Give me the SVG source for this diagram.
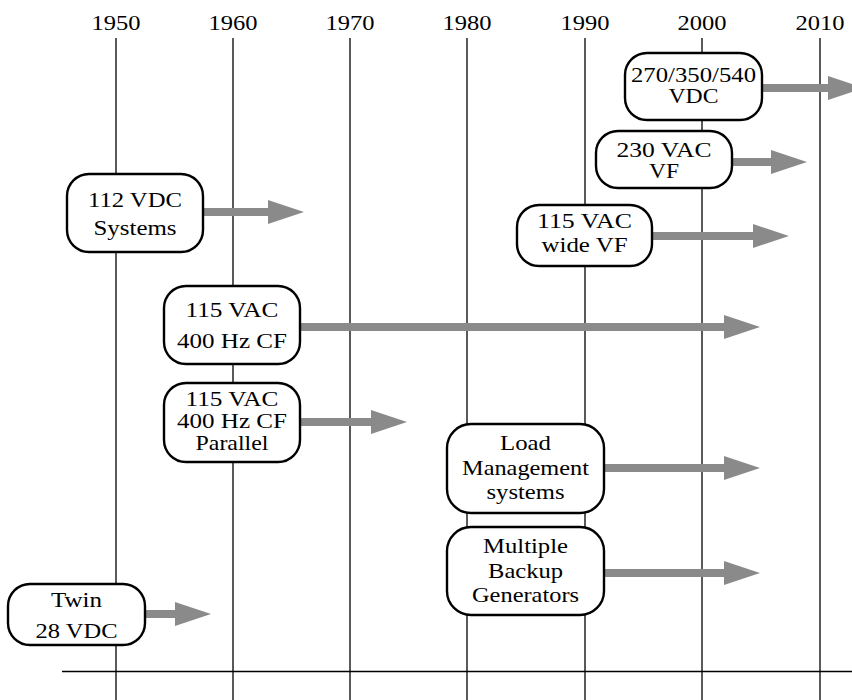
<svg xmlns="http://www.w3.org/2000/svg" width="852" height="700" viewBox="0 0 852 700">
<style>
.grid{stroke:#000;stroke-width:1.3;fill:none}
.yr{font-family:"Liberation Serif","Times New Roman",serif;font-size:21px;fill:#000;text-anchor:middle}
.box{fill:#fff;stroke:#000;stroke-width:2.4}
.t{font-family:"Liberation Serif","Times New Roman",serif;font-size:22px;fill:#000;text-anchor:middle}
.arr{stroke:#8a8a8a;stroke-width:8;fill:none;marker-end:url(#ah)}
</style>
<defs>
<marker id="ah" markerUnits="userSpaceOnUse" markerWidth="36" markerHeight="24" refX="0" refY="12" orient="auto" overflow="visible">
<path d="M0,0 L36,12 L0,24 Z" fill="#8a8a8a"/>
</marker>
</defs>
<rect width="852" height="700" fill="#fff"/>
<g id="axis">
<line class="grid" x1="116" y1="38" x2="116" y2="700"/>
<line class="grid" x1="233" y1="38" x2="233" y2="700"/>
<line class="grid" x1="350" y1="38" x2="350" y2="700"/>
<line class="grid" x1="467" y1="38" x2="467" y2="700"/>
<line class="grid" x1="585" y1="38" x2="585" y2="700"/>
<line class="grid" x1="702" y1="38" x2="702" y2="700"/>
<line class="grid" x1="820" y1="38" x2="820" y2="700"/>
<line class="grid" x1="62" y1="671.5" x2="852" y2="671.5"/>
<text class="yr" x="116" y="30" textLength="49" lengthAdjust="spacingAndGlyphs">1950</text>
<text class="yr" x="233" y="30" textLength="49" lengthAdjust="spacingAndGlyphs">1960</text>
<text class="yr" x="350" y="30" textLength="49" lengthAdjust="spacingAndGlyphs">1970</text>
<text class="yr" x="467" y="30" textLength="49" lengthAdjust="spacingAndGlyphs">1980</text>
<text class="yr" x="585" y="30" textLength="49" lengthAdjust="spacingAndGlyphs">1990</text>
<text class="yr" x="702" y="30" textLength="49" lengthAdjust="spacingAndGlyphs">2000</text>
<text class="yr" x="820" y="30" textLength="49" lengthAdjust="spacingAndGlyphs">2010</text>
</g>
<g id="connectors">
<path class="arr" d="M762,88 H828"/>
<path class="arr" d="M732,162 H771"/>
<path class="arr" d="M203,212 H268"/>
<path class="arr" d="M652,236 H753"/>
<path class="arr" d="M300,327 H724"/>
<path class="arr" d="M300,422 H371"/>
<path class="arr" d="M604,468 H724"/>
<path class="arr" d="M604,573 H724"/>
<path class="arr" d="M145,614 H175"/>
</g>
<g id="n-270vdc">
<rect class="box" x="625" y="53" width="137" height="67" rx="22"/>
<text class="t" x="693.5" y="81.5" textLength="125" lengthAdjust="spacingAndGlyphs">270/350/540</text>
<text class="t" x="693.5" y="103" textLength="50" lengthAdjust="spacingAndGlyphs">VDC</text>
</g>
<g id="n-230vac">
<rect class="box" x="596" y="131" width="136" height="57" rx="22"/>
<text class="t" x="664" y="156.5" textLength="95" lengthAdjust="spacingAndGlyphs">230 VAC</text>
<text class="t" x="664" y="178" textLength="30" lengthAdjust="spacingAndGlyphs">VF</text>
</g>
<g id="n-112vdc">
<rect class="box" x="67" y="174" width="136" height="78" rx="22"/>
<text class="t" x="135" y="206.5" textLength="94" lengthAdjust="spacingAndGlyphs">112 VDC</text>
<text class="t" x="135" y="235" textLength="83" lengthAdjust="spacingAndGlyphs">Systems</text>
</g>
<g id="n-115widevf">
<rect class="box" x="517" y="205" width="135" height="61" rx="22"/>
<text class="t" x="584.5" y="228" textLength="95" lengthAdjust="spacingAndGlyphs">115 VAC</text>
<text class="t" x="584.5" y="251.5" textLength="86" lengthAdjust="spacingAndGlyphs">wide VF</text>
</g>
<g id="n-115cf">
<rect class="box" x="164" y="286" width="136" height="78" rx="22"/>
<text class="t" x="232" y="317" textLength="93" lengthAdjust="spacingAndGlyphs">115 VAC</text>
<text class="t" x="232" y="348" textLength="110" lengthAdjust="spacingAndGlyphs">400 Hz CF</text>
</g>
<g id="n-115cfpar">
<rect class="box" x="164" y="383" width="136" height="79" rx="22"/>
<text class="t" x="232" y="406" textLength="93" lengthAdjust="spacingAndGlyphs">115 VAC</text>
<text class="t" x="232" y="428" textLength="110" lengthAdjust="spacingAndGlyphs">400 Hz CF</text>
<text class="t" x="232" y="450" textLength="73" lengthAdjust="spacingAndGlyphs">Parallel</text>
</g>
<g id="n-loadmgmt">
<rect class="box" x="447" y="424" width="157" height="89" rx="24"/>
<text class="t" x="525.5" y="450" textLength="51" lengthAdjust="spacingAndGlyphs">Load</text>
<text class="t" x="525.5" y="475" textLength="127" lengthAdjust="spacingAndGlyphs">Management</text>
<text class="t" x="525.5" y="498.5" textLength="78" lengthAdjust="spacingAndGlyphs">systems</text>
</g>
<g id="n-backup">
<rect class="box" x="447" y="527" width="157" height="88" rx="24"/>
<text class="t" x="525.5" y="553" textLength="85" lengthAdjust="spacingAndGlyphs">Multiple</text>
<text class="t" x="525.5" y="578" textLength="75" lengthAdjust="spacingAndGlyphs">Backup</text>
<text class="t" x="525.5" y="602" textLength="107" lengthAdjust="spacingAndGlyphs">Generators</text>
</g>
<g id="n-twin28">
<rect class="box" x="8" y="584" width="137" height="61" rx="22"/>
<text class="t" x="76.5" y="607" textLength="51" lengthAdjust="spacingAndGlyphs">Twin</text>
<text class="t" x="76.5" y="638" textLength="82" lengthAdjust="spacingAndGlyphs">28 VDC</text>
</g>
</svg>
